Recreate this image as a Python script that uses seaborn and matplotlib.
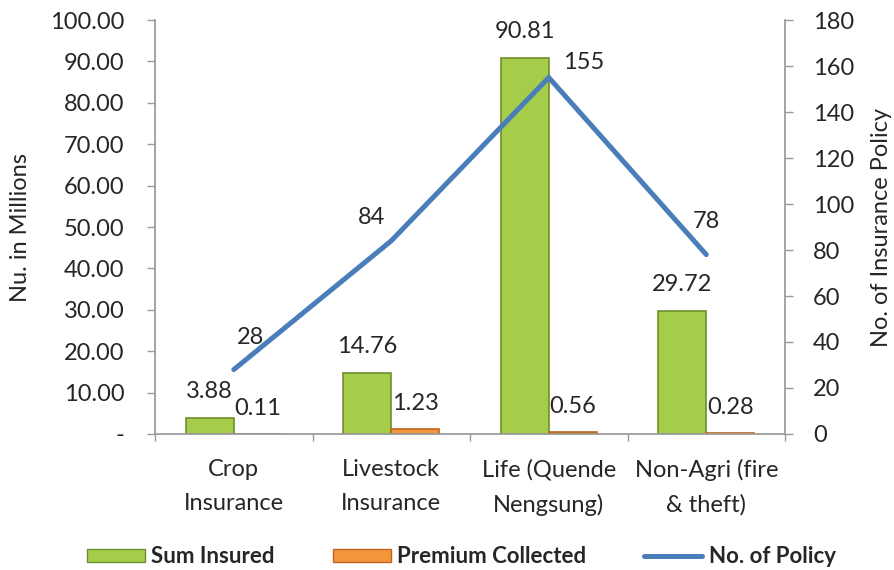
import matplotlib
matplotlib.use("Agg")
import matplotlib.pyplot as plt
import seaborn as sns
import pandas as pd
from matplotlib.patches import Patch
from matplotlib.lines import Line2D

categories = ["Crop\nInsurance", "Livestock\nInsurance", "Life (Quende\nNengsung)", "Non-Agri (fire\n& theft)"]
sum_insured = [3.88, 14.76, 90.81, 29.72]
premium = [0.11, 1.23, 0.56, 0.28]
policies = [28, 84, 155, 78]
left_ticks = [0, 10, 20, 30, 40, 50, 60, 70, 80, 90, 100]
left_labels = ["-"] + [f"{v:.2f}" for v in left_ticks[1:]]
right_ticks = list(range(0, 181, 20))

sns.set_theme(style="white")
plt.rcParams['font.family'] = ['Lato', 'DejaVu Sans']

FS = 17
df = pd.DataFrame({
    "Category": categories * 2,
    "Value": sum_insured + premium,
    "Series": ["Sum Insured"] * 4 + ["Premium Collected"] * 4,
})

fig = plt.figure(figsize=(8.94, 5.70), dpi=100)
ax = fig.add_axes([0.1734, 0.2386, 0.7047, 0.7263])
green_fc = "#a5cd4a"
green_ec = "#6f8f2e"
orange_fc = "#f5963c"
orange_ec = "#c0661a"
blue = "#4a7ebb"
sns.barplot(data=df, x="Category", y="Value", hue="Series",
            palette={"Sum Insured": green_fc, "Premium Collected": orange_fc},
            width=0.61, ax=ax, legend=False, saturation=1)
for p in ax.patches:
    fc = p.get_facecolor()
    if abs(fc[0] - 0xa5/255) < 0.02:
        p.set_edgecolor(green_ec)
    else:
        p.set_edgecolor(orange_ec)
    p.set_linewidth(1.2)

ax.set_ylim(0, 100)
ax.set_yticks(left_ticks)
ax.set_yticklabels(left_labels)
ax.set_xlim(-0.5, 3.5)
ax.set_xlabel("")
ax.set_ylabel("Nu. in Millions", fontsize=FS, labelpad=14)
ax.tick_params(axis="y", labelsize=FS, length=6, width=1, color="#999999", left=True,
               direction="out", pad=16)
ax.tick_params(axis="x", which="major", labelsize=FS, length=0, pad=18)
ax.set_xticks([-0.5, 0.5, 1.5, 2.5, 3.5], minor=True)
ax.tick_params(axis="x", which="minor", length=5, width=1, color="#999999", bottom=True, direction="out")
for lab in ax.get_xticklabels():
    lab.set_linespacing(1.75)
for s in ["top", "right"]:
    ax.spines[s].set_visible(False)
ax.spines["left"].set_color("#999999")
ax.spines["bottom"].set_color("#999999")

for i, v in enumerate(sum_insured):
    ax.annotate(f"{v:.2f}", (i - 0.153, v), xytext=(0, 19), textcoords="offset points",
                ha="center", va="center", fontsize=FS)
for i, v in enumerate(premium):
    ax.annotate(f"{v:.2f}", (i + 0.153, v), xytext=(0, 18), textcoords="offset points",
                ha="center", va="center", fontsize=FS)

ax2 = ax.twinx()
sns.lineplot(x=list(range(4)), y=policies, ax=ax2, color=blue, linewidth=3.6, sort=False)
ax2.lines[0].set_solid_capstyle("round")
ax2.lines[0].set_solid_joinstyle("miter")
ax2.set_ylim(0, 180)
ax2.set_yticks(right_ticks)
ax2.set_ylabel("No. of Insurance Policy", fontsize=FS, labelpad=12)
ax2.tick_params(axis="y", labelsize=FS, length=6, width=1, color="#999999", right=True,
                direction="out", pad=14)
for s in ["top", "left", "bottom"]:
    ax2.spines[s].set_visible(False)
ax2.spines["right"].set_color("#999999")
lbl_off = [(12, 23), (-14, 17), (25, 11), (0, 24)]
for i, v in enumerate(policies):
    dx, dy = lbl_off[i]
    ax2.annotate(str(v), (i, v), xytext=(dx, dy), textcoords="offset points",
                 ha="center", va="center", fontsize=FS)

handles = [Patch(facecolor=green_fc, edgecolor=green_ec, label="Sum Insured"),
           Patch(facecolor=orange_fc, edgecolor=orange_ec, label="Premium Collected"),
           Line2D([0], [0], color=blue, linewidth=3.6, label="No. of Policy")]
fig.legend(handles=handles, loc="center", bbox_to_anchor=(0.516, 0.023), ncol=3,
           frameon=False, prop={"weight": "bold", "size": 16}, columnspacing=2.6,
           handlelength=2.6, handleheight=0.5, handletextpad=0.3)

fig.savefig("out.png", dpi=100)
